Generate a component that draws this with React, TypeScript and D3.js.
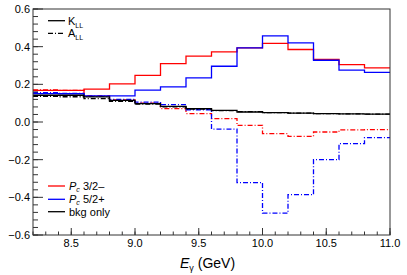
import React from "react";
import * as d3 from "d3";

// bin edges in photon energy (GeV)
const binEdges = [8.2, 8.4, 8.6, 8.8, 9.0, 9.2, 9.4, 9.6, 9.8, 10.0, 10.2, 10.4, 10.6, 10.8, 11.0];

// K_LL (solid)
const kllPc32 = [0.168, 0.168, 0.175, 0.202, 0.248, 0.31, 0.35, 0.372, 0.394, 0.417, 0.385, 0.332, 0.305, 0.287];
const kllPc52 = [0.151, 0.15, 0.139, 0.139, 0.169, 0.186, 0.234, 0.296, 0.394, 0.457, 0.42, 0.328, 0.275, 0.263];
const kllBkg = [0.142, 0.142, 0.133, 0.115, 0.098, 0.083, 0.071, 0.062, 0.053, 0.05, 0.047, 0.045, 0.043, 0.042];

// A_LL (dash-dot)
const allPc32 = [0.17, 0.168, 0.14, 0.118, 0.1, 0.071, 0.045, 0.018, -0.018, -0.062, -0.076, -0.053, -0.042, -0.04];
const allPc52 = [0.156, 0.152, 0.136, 0.12, 0.106, 0.092, 0.065, -0.038, -0.322, -0.484, -0.386, -0.2, -0.115, -0.083];
const allBkg = [0.136, 0.134, 0.124, 0.11, 0.095, 0.08, 0.068, 0.06, 0.055, 0.05, 0.047, 0.045, 0.043, 0.042];

const yTicks = [-0.6, -0.4, -0.2, 0.0, 0.2, 0.4, 0.6];
const xTicks = [8.5, 9.0, 9.5, 10.0, 10.5, 11.0];

const W = 407;
const H = 275;
const margin = { top: 9, right: 17, bottom: 40, left: 33 };
const font = "Liberation Sans, Arial, Helvetica, sans-serif";
const dashDot = "5,2,1,2";

const x = d3.scaleLinear().domain([8.2, 11.0]).range([margin.left, W - margin.right]);
const y = d3.scaleLinear().domain([-0.6, 0.6]).range([H - margin.bottom, margin.top]);

const stepLine = d3
  .line<[number, number]>()
  .x((d) => x(d[0]))
  .y((d) => y(d[1]))
  .curve(d3.curveStepAfter);

const histPath = (vals: number[]) => {
  const pts: [number, number][] = vals.map((v, i) => [binEdges[i], v]);
  pts.push([binEdges[binEdges.length - 1], vals[vals.length - 1]]);
  return stepLine(pts) || "";
};

const series = [
  { vals: kllPc32, color: "#ff0000", dash: undefined },
  { vals: allPc32, color: "#ff0000", dash: dashDot },
  { vals: kllPc52, color: "#0000ff", dash: undefined },
  { vals: allPc52, color: "#0000ff", dash: dashDot },
  { vals: kllBkg, color: "#000000", dash: undefined },
  { vals: allBkg, color: "#000000", dash: dashDot },
];

export default function App() {
  const x0 = margin.left;
  const x1 = W - margin.right;
  const y0 = H - margin.bottom;
  const y1 = margin.top;

  const yMinor = d3.range(-0.6, 0.6001, 0.04);
  const xMinor = d3.range(8.2, 11.0001, 0.1);

  return (
    <svg
      width={W}
      height={H}
      style={{ position: "absolute", left: 0, top: 0, background: "#fff" }}
      fontFamily={font}
    >
      {/* histograms */}
      {series.map((s, i) => (
        <path
          key={i}
          d={histPath(s.vals)}
          fill="none"
          stroke={s.color}
          strokeWidth={1.3}
          strokeDasharray={s.dash}
        />
      ))}

      {/* frame */}
      <rect x={x0} y={y1} width={x1 - x0} height={y0 - y1} fill="none" stroke="#333" strokeWidth={1} />

      {/* y ticks */}
      {yMinor.map((v, i) => (
        <line key={"ym" + i} x1={x0} x2={x0 + 5} y1={y(v)} y2={y(v)} stroke="#333" />
      ))}
      {yTicks.map((v) => (
        <g key={"y" + v}>
          <line x1={x0} x2={x0 + 10} y1={y(v)} y2={y(v)} stroke="#333" />
          <text x={x0 - 3} y={y(v)} dy="0.35em" textAnchor="end" fontSize={11}>
            {v < 0 ? "\u2212" + Math.abs(v).toFixed(1) : v.toFixed(1)}
          </text>
        </g>
      ))}

      {/* x ticks */}
      {xMinor.map((v, i) => (
        <line key={"xm" + i} x1={x(v)} x2={x(v)} y1={y0} y2={y0 - 3.5} stroke="#333" />
      ))}
      {xTicks.map((v) => (
        <g key={"x" + v}>
          <line x1={x(v)} x2={x(v)} y1={y0} y2={y0 - 7} stroke="#333" />
          <text x={x(v)} y={y0 + 12} textAnchor="middle" fontSize={11}>
            {v.toFixed(1)}
          </text>
        </g>
      ))}

      {/* x title */}
      <text x={180} y={268} fontSize={14}>
        <tspan fontStyle="italic">E</tspan>
        <tspan fontSize={9} dy={3}>γ</tspan>
        <tspan dy={-3}> (GeV)</tspan>
      </text>

      {/* top legend */}
      <g fontSize={11}>
        <line x1={48} x2={65} y1={20.7} y2={20.7} stroke="#000" strokeWidth={1.3} />
        <text x={68} y={24.5}>
          K<tspan fontSize={7} dy={3}>LL</tspan>
        </text>
        <line x1={48} x2={65} y1={33.3} y2={33.3} stroke="#000" strokeWidth={1.3} strokeDasharray={dashDot} />
        <text x={68} y={37}>
          A<tspan fontSize={7} dy={3}>LL</tspan>
        </text>
      </g>

      {/* bottom legend */}
      <g fontSize={11}>
        <line x1={48} x2={65} y1={186} y2={186} stroke="#ff0000" strokeWidth={1.3} />
        <text x={69} y={189.8}>
          <tspan fontStyle="italic">P</tspan>
          <tspan fontStyle="italic" fontSize={7} dy={2}>c</tspan>
          <tspan dy={-2}> 3/2–</tspan>
        </text>
        <line x1={48} x2={65} y1={199.3} y2={199.3} stroke="#0000ff" strokeWidth={1.3} />
        <text x={69} y={203}>
          <tspan fontStyle="italic">P</tspan>
          <tspan fontStyle="italic" fontSize={7} dy={2}>c</tspan>
          <tspan dy={-2}> 5/2+</tspan>
        </text>
        <line x1={48} x2={65} y1={211.7} y2={211.7} stroke="#000" strokeWidth={1.3} />
        <text x={69} y={215.5}>bkg only</text>
      </g>
    </svg>
  );
}
